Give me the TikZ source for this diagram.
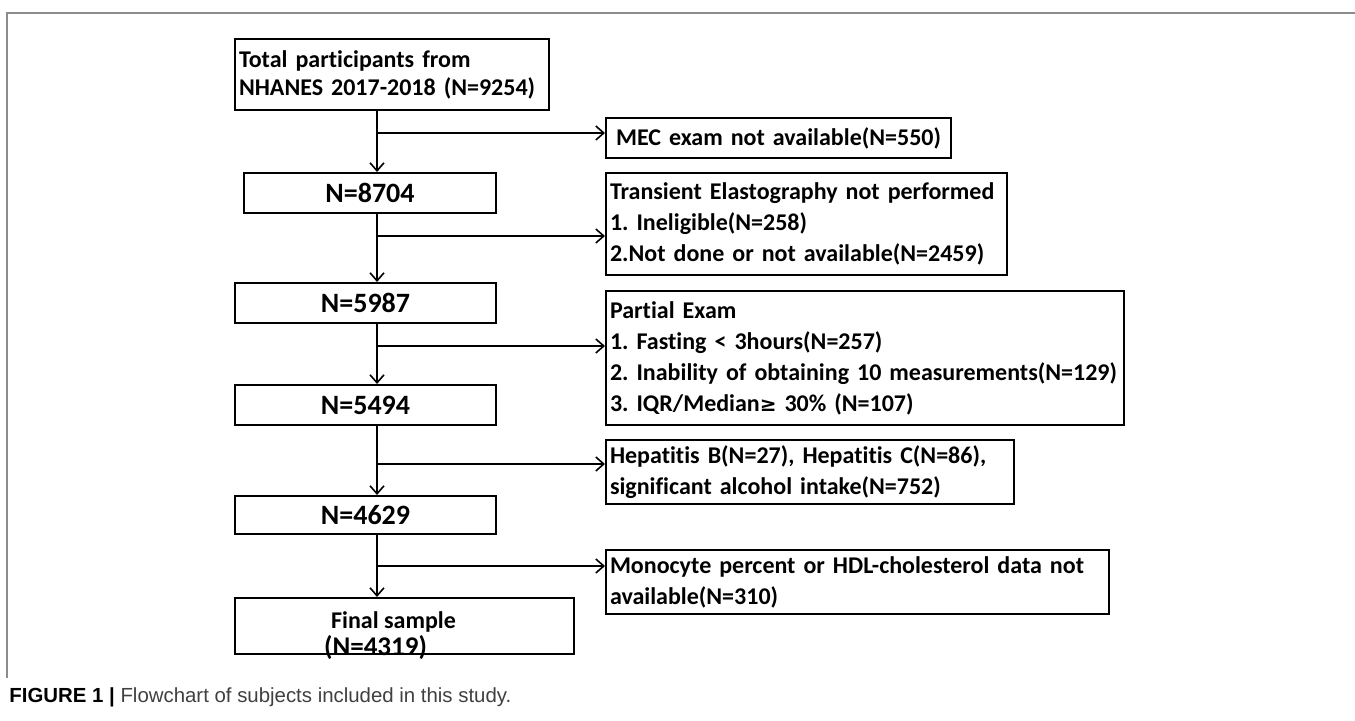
\documentclass[tikz,border=0pt]{standalone}
\usepackage{fontspec}
\setmainfont[Ligatures=NoCommon]{Carlito}
\newfontfamily\capfont{Liberation Sans}
\usetikzlibrary{arrows.meta}
\frenchspacing

\begin{document}
\begin{tikzpicture}[x=0.5pt, y=-0.5pt,
    box/.style={draw, line width=1pt, anchor=north west, inner xsep=2pt, inner ysep=0pt,
      font=\bfseries\fontsize{12}{15.5}\selectfont},
    numbox/.style={box, align=center, font=\bfseries\fontsize{14}{16}\selectfont},
    flow/.style={line width=0.8pt, -{Straight Barb[length=4pt,width=7pt]}}]
	\useasboundingbox (0,0) rectangle (1355,721);
	\draw[black!45, line width=0.6pt] (7,678) -- (7,13) -- (1355,13);

	\node[box, text width=153pt, minimum height=35.5pt, align=left, font=\bfseries\fontsize{12}{14}\selectfont] (tot) at (234,38)
		{Total participants from\\NHANES 2017-2018 (N=9254)};
	\node[numbox, text width=122pt, minimum height=20pt] (n1) at (243,172) {N=8704};
	\node[numbox, text width=126.5pt, minimum height=20pt] (n2) at (234,282) {N=5987};
	\node[numbox, text width=126.5pt, minimum height=20pt] (n3) at (234,384) {N=5494};
	\node[numbox, text width=126.5pt, minimum height=19pt] (n4) at (234,495) {N=4629};
	\node[box, minimum width=169.5pt, minimum height=28pt, font=\bfseries\fontsize{12}{12}\selectfont] (fin) at (234,597)
		{\raisebox{-5.5pt}[\height][\depth]{\begin{tabular}{@{}c@{}}Final sample\hspace*{11pt}\\{\fontsize{13.5}{12}\selectfont(N=4319)}\hspace*{29pt}\end{tabular}}};

	\node[box, text width=168.5pt, minimum height=20pt, align=center] (x1) at (605,117) {MEC exam not available(N=550)};
	\node[box, text width=196.5pt, minimum height=51pt, align=left] (x2) at (605,172)
		{Transient Elastography not performed\\1. Ineligible(N=258)\\2.Not done or not available(N=2459)};
	\node[box, text width=255pt, minimum height=67pt, align=left] (x3) at (605,290)
		{Partial Exam\\1. Fasting {\normalfont\bfseries<} 3hours(N=257)\\2. Inability of obtaining 10 measurements(N=129)\\3. IQR/Median{\fontspec{DejaVu Sans}\fontsize{10}{12}\selectfont ≥} 30\% (N=107)};
	\node[box, text width=200pt, minimum height=32pt, align=left] (x4) at (605,439)
		{Hepatitis B(N=27), Hepatitis C(N=86),\\significant alcohol intake(N=752)};
	\node[box, text width=247.5pt, minimum height=32pt, align=left] (x5) at (605,549)
		{Monocyte percent or HDL-cholesterol data not\\available(N=310)};

	\coordinate (c1) at (377,133);
	\coordinate (c2) at (377,236);
	\coordinate (c3) at (377,346);
	\coordinate (c4) at (377,464);
	\coordinate (c5) at (377,566);

	\draw[flow] (tot.south -| c1) -- (n1.north -| c1);
	\draw[flow] (n1.south -| c1) -- (n2.north -| c1);
	\draw[flow] (n2.south -| c1) -- (n3.north -| c1);
	\draw[flow] (n3.south -| c1) -- (n4.north -| c1);
	\draw[flow] (n4.south -| c1) -- (fin.north -| c1);

	\draw[flow] (c1) -- (c1 -| x1.west);
	\draw[flow] (c2) -- (c2 -| x2.west);
	\draw[flow] (c3) -- (c3 -| x3.west);
	\draw[flow] (c4) -- (c4 -| x4.west);
	\draw[flow] (c5) -- (c5 -| x5.west);

	\node[anchor=west, inner sep=0pt, font=\capfont\fontsize{10.2}{12}\selectfont, text=black!75] (cap) at (9,697)
		{{\color{black}\bfseries FIGURE 1 |} Flowchart of subjects included in this study.};
\end{tikzpicture}
\end{document}
